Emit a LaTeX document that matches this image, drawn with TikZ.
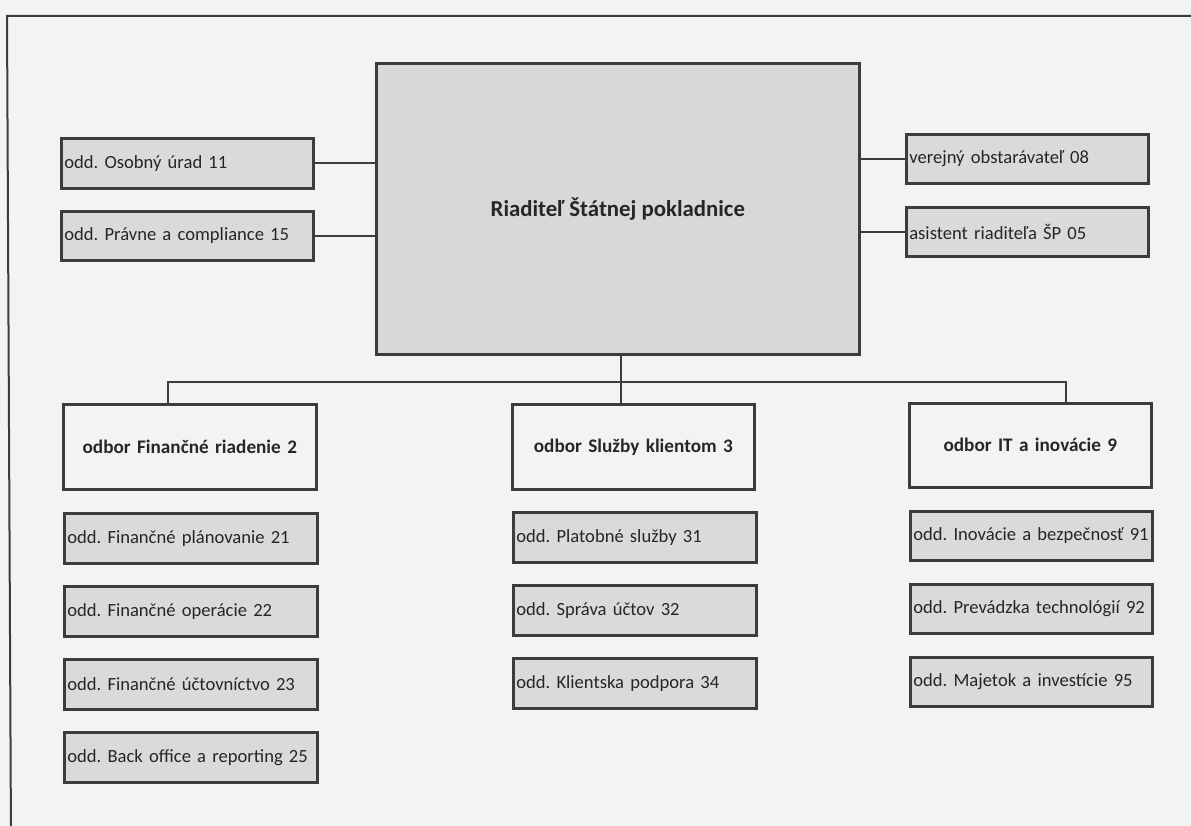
\documentclass[tikz,border=0pt]{standalone}
\usepackage{fontspec}
\setmainfont{Carlito}
\frenchspacing
\definecolor{bg}{HTML}{F2F4F3}
\definecolor{linec}{HTML}{3C3C3C}
\definecolor{boxgray}{HTML}{DADADA}
\definecolor{maingray}{HTML}{D8D8D8}
\definecolor{textc}{HTML}{262626}
\tikzset{
  base/.style={draw=linec, line width=2.6pt, anchor=north west, inner ysep=0pt, inner xsep=3pt, text=textc, font=\fontsize{18.6}{20}\selectfont},
  oddbox/.style={base, fill=boxgray, align=left},
  odborbox/.style={base, fill=bg, align=center, font=\fontsize{19.2}{21}\selectfont\bfseries},
  conn/.style={draw=linec, line width=2pt},
}
\begin{document}
\begin{tikzpicture}[x=1pt,y=-1pt]
\useasboundingbox (0,0) rectangle (1191,826);
\fill[bg] (0,0) rectangle (1191,826);
\begin{scope}
\clip (0,0) rectangle (1191,826);
\draw[linec, line width=2pt] (11,840) -- (7,16) -- (1200,16);
\end{scope}
% main
\node[base, fill=maingray, minimum width=483pt, minimum height=291pt, font=\fontsize{22.8}{25}\selectfont\bfseries] (main) at (375,62) {Riaditeľ Štátnej pokladnice};
% left staff
\node[oddbox, text width=246pt, minimum height=50pt] (ou) at (60,137) {odd. Osobný úrad 11};
\node[oddbox, text width=246pt, minimum height=49pt] (pc) at (60,210) {odd. Právne a compliance 15};
% right staff
\node[oddbox, text width=236pt, minimum height=49pt] (vo) at (905,133) {verejný obstarávateľ 08};
\node[oddbox, text width=236pt, minimum height=49pt] (as) at (905,206) {asistent riaditeľa ŠP 05};
% odbory
\node[odborbox, text width=247pt, minimum height=85pt] (f2) at (62,403) {odbor Finančné riadenie 2};
\node[odborbox, text width=236pt, minimum height=85pt] (s3) at (511,403) {odbor Služby klientom 3};
\node[odborbox, text width=236pt, minimum height=84pt] (it9) at (908,402) {odbor IT a inovácie 9};
% left column
\node[oddbox, text width=247pt, minimum height=50pt] (f21) at (63,512) {odd. Finančné plánovanie 21};
\node[oddbox, text width=247pt, minimum height=50pt] (f22) at (63,585) {odd. Finančné operácie 22};
\node[oddbox, text width=247pt, minimum height=50pt] (f23) at (63,658) {odd. Finančné účtovníctvo 23};
\node[oddbox, text width=247pt, minimum height=50pt] (f25) at (63,731) {odd. Back office a reporting 25};
% middle column
\node[oddbox, text width=237pt, minimum height=50pt] (s31) at (512,511) {odd. Platobné služby 31};
\node[oddbox, text width=237pt, minimum height=50pt] (s32) at (512,584) {odd. Správa účtov 32};
\node[oddbox, text width=237pt, minimum height=50pt] (s34) at (512,657) {odd. Klientska podpora 34};
% right column
\node[oddbox, text width=236pt, minimum height=49pt] (i91) at (909,510) {odd. Inovácie a bezpečnosť 91};
\node[oddbox, text width=236pt, minimum height=49pt] (i92) at (909,583) {odd. Prevádzka technológií 92};
\node[oddbox, text width=236pt, minimum height=49pt] (i95) at (909,656) {odd. Majetok a investície 95};
% connectors
\draw[conn] (ou.east) -- (main.west |- ou.east);
\draw[conn] (pc.east) -- (main.west |- pc.east);
\draw[conn] (vo.west) -- (main.east |- vo.west);
\draw[conn] (as.west) -- (main.east |- as.west);
\coordinate (busL) at (168,382);
\coordinate (busR) at (1066,382);
\coordinate (busM) at (621,382);
\draw[conn] (busM |- main.south) -- (busM |- s3.north);
\draw[conn] (busL |- f2.north) -- (busL) -- (busR) -- (busR |- it9.north);
\end{tikzpicture}
\end{document}
